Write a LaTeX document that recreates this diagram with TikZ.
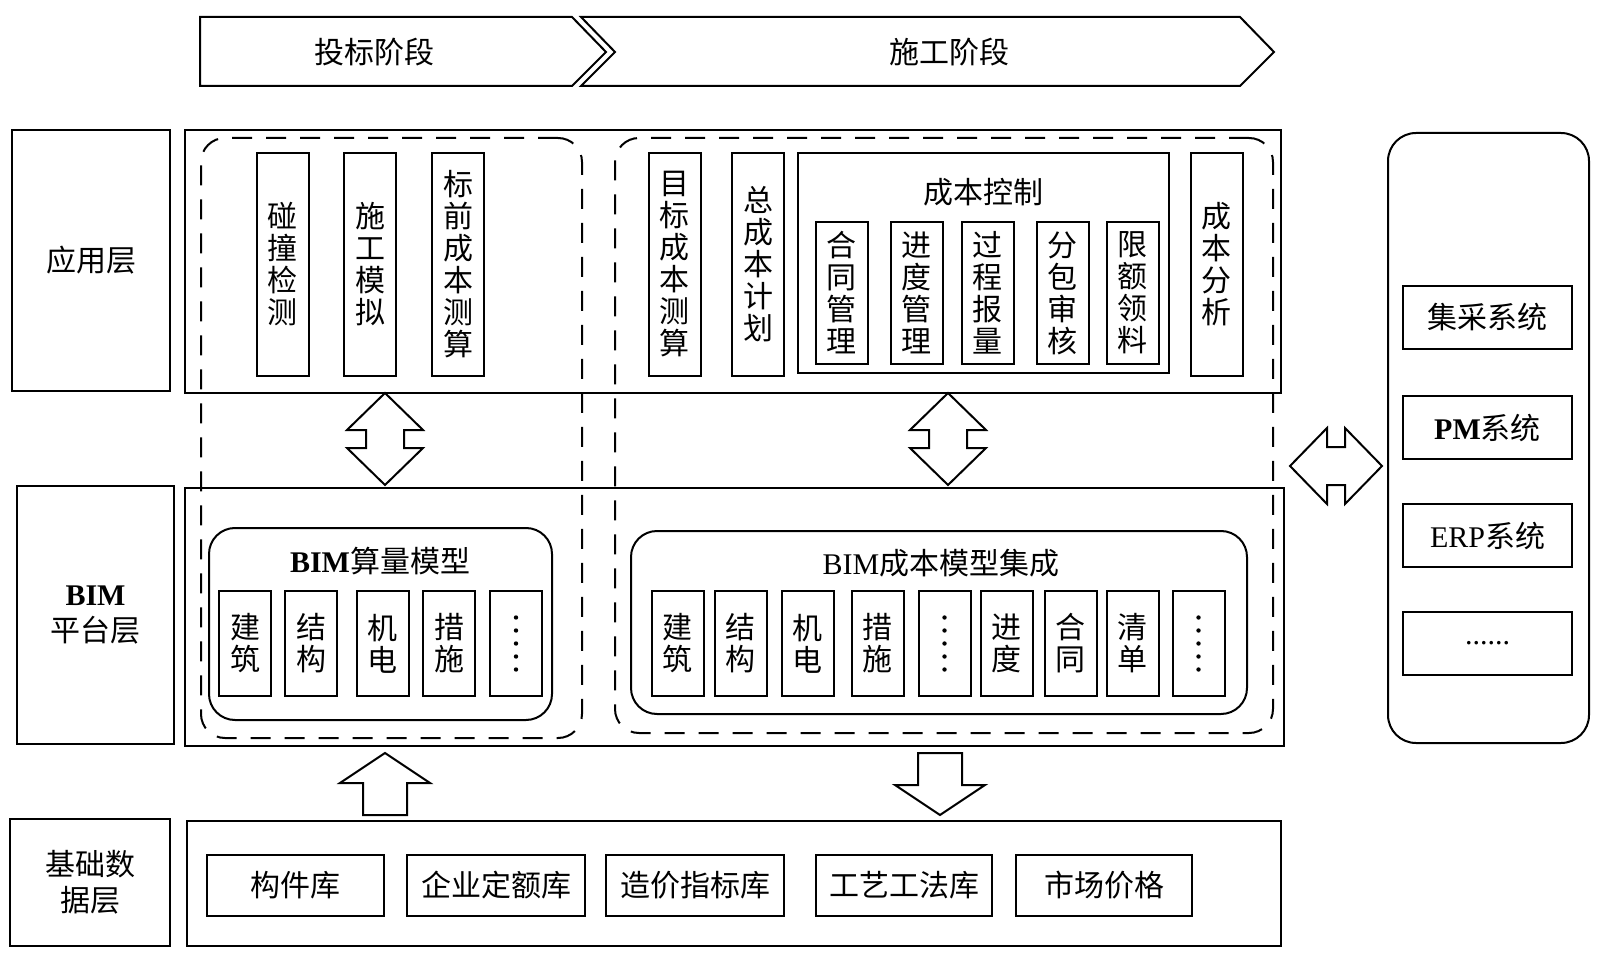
\documentclass[tikz,border=0pt]{standalone}
\usepackage{fontspec}
\setmainfont{Noto Sans CJK SC}
\newfontfamily\latin{Liberation Serif}
\usetikzlibrary{positioning,calc}
\tikzset{
layer/.style = {draw, rectangle, inner sep=0pt, align=center},
item/.style  = {draw, rectangle, inner sep=0pt, align=center, minimum width=52pt},
dbox/.style  = {draw, rectangle, rounded corners=24pt, dash pattern=on 20pt off 14pt},
rbox/.style  = {draw, rectangle, rounded corners=26pt},
dblarrow/.pic = {
  \draw (0,-46) -- (38,-9) -- (19,-9) -- (19,9) -- (38,9) -- (0,46)
        -- (-38,9) -- (-19,9) -- (-19,-9) -- (-38,-9) -- cycle;
},
blkarrow/.pic = {
  \draw (0,-31) -- (45,-1) -- (22,-1) -- (22,31) -- (-22,31) -- (-22,-1) -- (-45,-1) -- cycle;
}
}

\begin{document}
\begin{tikzpicture}[x=1pt, y=-1pt, line width=2pt, every node/.style={font=\fontsize{30}{32}\selectfont}]
  \useasboundingbox (0,0) rectangle (1600,965);

  % phases
  \draw (200,17) -- (572,17) -- (606,52) -- (572,86) -- (200,86) -- cycle;
  \node (bidP) at (374,52) {投标阶段};
  \draw (581,17) -- (1240,17) -- (1274,52) -- (1240,86) -- (581,86) -- (615,52) -- cycle;
  \node (conP) at (949,52) {施工阶段};

  % layers
  \node [layer, minimum width=158pt, minimum height=261pt] (appL)  at (91,260.5)  {应用层};
  \node [layer, minimum width=157pt, minimum height=258pt] (bimL)  at (95.5,615)  {{\latin\bfseries BIM}\\[4pt]平台层};
  \node [layer, minimum width=160pt, minimum height=127pt] (baseL) at (90,882.5)  {基础数\\[4pt]据层};

  \node [layer, minimum width=1096pt, minimum height=263pt] (appO)  at (733,261.5) {};
  \node [layer, minimum width=1099pt, minimum height=258pt] (bimO)  at (734.5,617) {};
  \node [layer, minimum width=1094pt, minimum height=125pt] (baseO) at (734,883.5) {};

  \node [dbox, minimum width=381pt, minimum height=600pt] (bidD) at (391.5,438) {};
  \node [dbox, minimum width=658pt, minimum height=595pt] (conD) at (944,435.5) {};

  % application layer
  \node [item, minimum height=223pt] (pz) at (282.5,264.5) {碰\\撞\\检\\测};
  \node [item, minimum height=223pt] (sg) at (370,264.5)   {施\\工\\模\\拟};
  \node [item, minimum height=223pt] (bq) at (458,264.5)   {标\\前\\成\\本\\测\\算};
  \node [item, minimum height=223pt] (mb) at (674.5,264.5) {目\\标\\成\\本\\测\\算};
  \node [item, minimum height=223pt] (zc) at (758,264.5)   {总\\成\\本\\计\\划};
  \node [layer, minimum width=371pt, minimum height=220pt] (kz) at (983.5,263) {};
  \node (kzT) at (983.5,192) {成本控制};
  \node [item, minimum height=142pt] (ht) at (841.5,293)  {合\\同\\管\\理};
  \node [item, minimum height=142pt] (jd) at (916.5,293)  {进\\度\\管\\理};
  \node [item, minimum height=142pt] (gc) at (987.5,293)  {过\\程\\报\\量};
  \node [item, minimum height=142pt] (fb) at (1062.5,293) {分\\包\\审\\核};
  \node [item, minimum height=142pt] (xe) at (1132.5,293) {限\\额\\领\\料};
  \node [item, minimum height=223pt] (fx) at (1216.5,264.5) {成\\本\\分\\析};

  % BIM platform layer
  \node [rbox, minimum width=343pt, minimum height=192pt] (sl) at (380.5,624) {};
  \node (slT) at (380,561) {{\latin\bfseries BIM}算量模型};
  \node [item, minimum height=105pt] (slA) at (245,643.5) {建\\筑};
  \node [item, minimum height=105pt] (slB) at (311,643.5) {结\\构};
  \node [item, minimum height=105pt] (slC) at (382.5,643.5) {机\\电};
  \node [item, minimum height=105pt] (slD) at (449,643.5) {措\\施};
  \node [item, minimum height=105pt] (slE) at (516,643.5) {};

  \node [rbox, minimum width=616pt, minimum height=183pt] (cb) at (939,622.5) {};
  \node (cbT) at (941,563) {{\latin BIM}成本模型集成};
  \node [item, minimum height=105pt] (cbA) at (677.5,643.5)  {建\\筑};
  \node [item, minimum height=105pt] (cbB) at (740.5,643.5)  {结\\构};
  \node [item, minimum height=105pt] (cbC) at (807.5,643.5)  {机\\电};
  \node [item, minimum height=105pt] (cbD) at (877.5,643.5)  {措\\施};
  \node [item, minimum height=105pt] (cbE) at (944.5,643.5)  {};
  \node [item, minimum height=105pt] (cbF) at (1006.5,643.5) {进\\度};
  \node [item, minimum height=105pt] (cbG) at (1070.5,643.5) {合\\同};
  \node [item, minimum height=105pt] (cbH) at (1132.5,643.5) {清\\单};
  \node [item, minimum height=105pt] (cbI) at (1198.5,643.5) {};

  % vertical dots
  \foreach \n in {slE,cbE,cbI}
    \foreach \d in {-26,-13,0,13,26}
      \fill ($(\n.center)+(0,\d)$) circle (2.2pt);

  % base data layer
  \node [layer, minimum width=177pt, minimum height=61pt] (gj) at (295.5,885.5) {构件库};
  \node [layer, minimum width=178pt, minimum height=61pt] (qy) at (496,885.5)   {企业定额库};
  \node [layer, minimum width=178pt, minimum height=61pt] (zj) at (695,885.5)   {造价指标库};
  \node [layer, minimum width=176pt, minimum height=61pt] (gy) at (904,885.5)   {工艺工法库};
  \node [layer, minimum width=176pt, minimum height=61pt] (sc) at (1104,885.5)  {市场价格};

  % external systems
  \node [rbox, rounded corners=28pt, minimum width=201pt, minimum height=610pt] (sys) at (1488.5,438) {};
  \node [layer, minimum width=169pt, minimum height=63pt] (jc)  at (1487.5,317.5) {集采系统};
  \node [layer, minimum width=169pt, minimum height=63pt] (pm)  at (1487.5,427.5) {{\latin\bfseries PM}系统};
  \node [layer, minimum width=169pt, minimum height=63pt] (erp) at (1487.5,535.5) {{\latin ERP}系统};
  \node [layer, minimum width=169pt, minimum height=63pt] (etc) at (1487.5,643.5) {{\latin ......}};

  % block arrows
  \pic at (385,439) {dblarrow};
  \pic at (948,439) {dblarrow};
  \pic [rotate=90] at (1336,466) {dblarrow};
  \pic at (385,784) {blkarrow};
  \pic [rotate=180] at (940,784) {blkarrow};
\end{tikzpicture}
\end{document}
